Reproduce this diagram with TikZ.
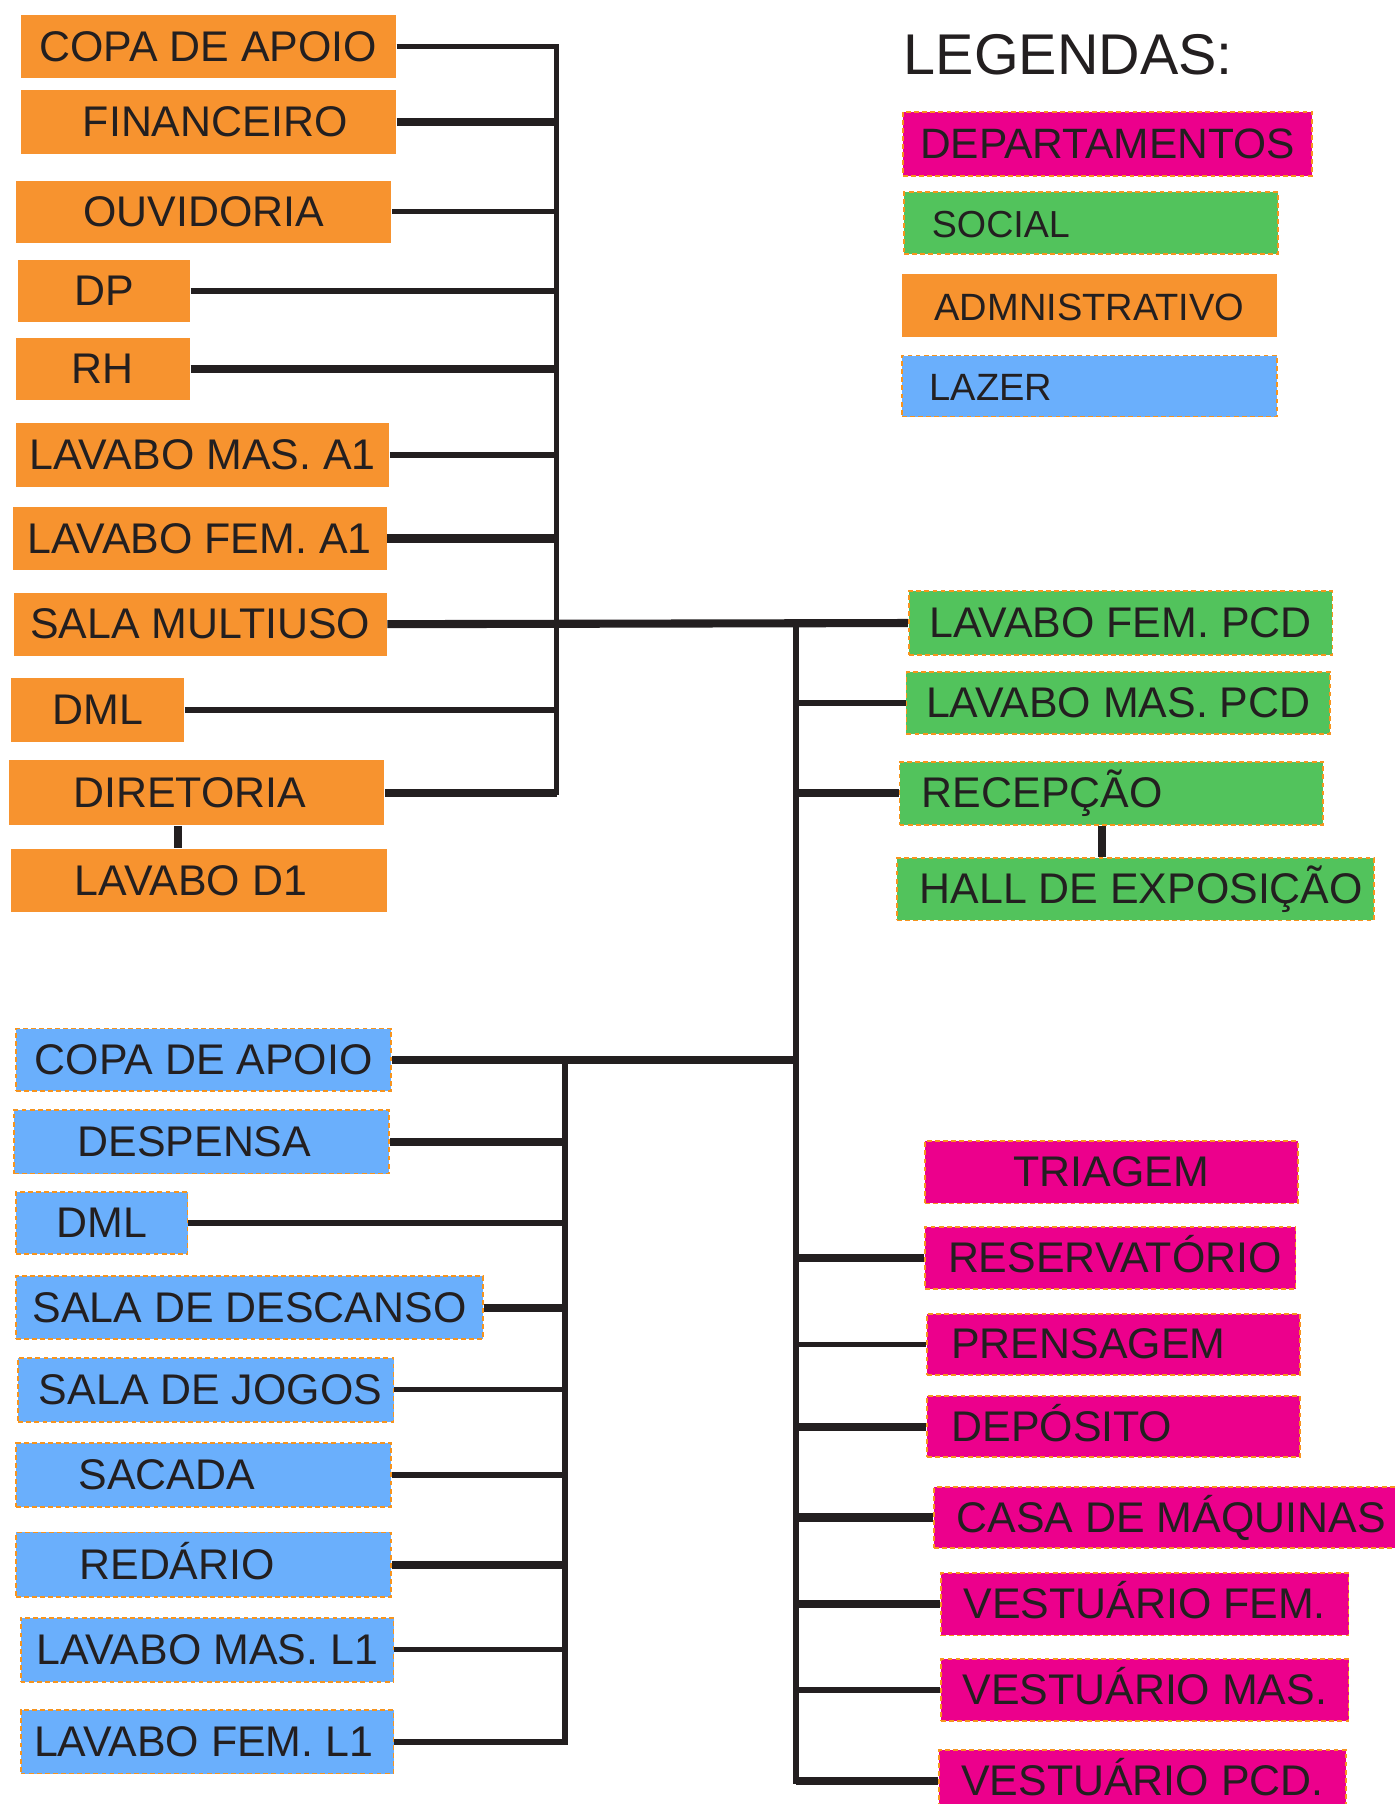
\documentclass[tikz,border=0pt]{standalone}
\usepackage{fontspec}
\setmainfont{Liberation Sans}

\definecolor{admorange}{HTML}{F7932F}
\definecolor{socgreen}{HTML}{52C35C}
\definecolor{lazblue}{HTML}{6AAFFC}
\definecolor{depmagenta}{HTML}{EC008C}
\definecolor{dashorange}{HTML}{F7941D}
\definecolor{ink}{HTML}{231F20}

\tikzset{
  room/.style={rectangle, inner sep=0pt, text=ink, font=\fontsize{10.6}{12}\selectfont,
    text height=0.74em, text depth=0.02em},
  dashbox/.style={draw=dashorange, dash pattern=on 1.2pt off 0.8pt, line width=0.45pt},
  adm/.style={room, fill=admorange},
  soc/.style={room, fill=socgreen, dashbox},
  laz/.style={room, fill=lazblue, dashbox},
  dep/.style={room, fill=depmagenta, dashbox},
  sz/.style 2 args={minimum width=#1, minimum height=#2},
  tl/.style={execute at end node={\hspace*{#1}}},
  tr/.style={execute at begin node={\hspace*{#1}}},
  link/.style={draw=ink, line width=1.3pt},
  bold/.style={draw=ink, line width=2pt},
}

\begin{document}
\begin{tikzpicture}[x=0.01cm, y=-0.01cm]
  \path[use as bounding box, fill=white] (0,0) rectangle (1212,1568);

  % legenda
  \node[anchor=base west, inner sep=0pt, text=ink, font=\fontsize{14.2}{16}\selectfont] (leg) at (785,65) {LEGENDAS:};
  \node[dep, sz={3.55cm}{0.56cm}, font=\fontsize{10.5}{12}\selectfont] (legDep) at (962.5,125) {DEPARTAMENTOS};
  \node[soc, sz={3.25cm}{0.54cm}, font=\fontsize{9.3}{11}\selectfont, tl=1.57cm] (legSoc) at (948.5,194) {SOCIAL};
  \node[adm, sz={3.26cm}{0.55cm}, font=\fontsize{9.4}{11}\selectfont] (legAdm) at (947,265.5) {ADMNISTRATIVO};
  \node[laz, sz={3.26cm}{0.53cm}, font=\fontsize{9.4}{11}\selectfont, tl=1.71cm] (legLaz) at (947,335.5) {LAZER};

  % administrativo
  \node[adm, sz={3.26cm}{0.55cm}] (copaA) at (181,40.5) {COPA DE APOIO};
  \node[adm, sz={3.26cm}{0.56cm}, tr=0.12cm] (financ) at (181,106) {FINANCEIRO};
  \node[adm, sz={3.26cm}{0.54cm}] (ouvid) at (177,184) {OUVIDORIA};
  \node[adm, sz={1.49cm}{0.54cm}] (dp) at (90.5,253) {DP};
  \node[adm, sz={1.51cm}{0.54cm}] (rh) at (89.5,321) {RH};
  \node[adm, sz={3.24cm}{0.55cm}] (lavMasA) at (176,395.5) {LAVABO MAS. A1};
  \node[adm, sz={3.25cm}{0.54cm}] (lavFemA) at (173.5,468) {LAVABO FEM. A1};
  \node[adm, sz={3.24cm}{0.55cm}] (multi) at (174,542.5) {SALA MULTIUSO};
  \node[adm, sz={1.50cm}{0.56cm}] (dmlA) at (85,617) {DML};
  \node[adm, sz={3.26cm}{0.56cm}, tl=0.12cm] (diret) at (171,689) {DIRETORIA};
  \node[adm, sz={3.26cm}{0.55cm}, tl=0.14cm] (lavD1) at (173,765.5) {LAVABO D1};

  % social
  \node[soc, sz={3.68cm}{0.55cm}] (lavFemP) at (974,541.5) {LAVABO FEM. PCD};
  \node[soc, sz={3.68cm}{0.54cm}] (lavMasP) at (972,611) {LAVABO MAS. PCD};
  \node[soc, sz={3.68cm}{0.55cm}, tl=1.2cm] (recep) at (966,689.5) {RECEPÇÃO};
  \node[soc, sz={4.14cm}{0.54cm}, tr=0.1cm] (hall) at (987,773) {HALL DE EXPOSIÇÃO};

  % lazer
  \node[laz, sz={3.26cm}{0.54cm}] (copaL) at (177,921) {COPA DE APOIO};
  \node[laz, sz={3.26cm}{0.55cm}, tl=0.12cm] (despensa) at (175,992.5) {DESPENSA};
  \node[laz, sz={1.49cm}{0.54cm}] (dmlL) at (88.5,1063) {DML};
  \node[laz, sz={4.06cm}{0.55cm}] (descanso) at (217,1136.5) {SALA DE DESCANSO};
  \node[laz, sz={3.26cm}{0.56cm}, tr=0.08cm] (jogos) at (179,1208) {SALA DE JOGOS};
  \node[laz, sz={3.26cm}{0.55cm}, tl=0.64cm] (sacada) at (177,1282) {SACADA};
  \node[laz, sz={3.26cm}{0.56cm}, tl=0.46cm] (redario) at (177,1360) {REDÁRIO};
  \node[laz, sz={3.24cm}{0.56cm}] (lavMasL) at (180,1434) {LAVABO MAS. L1};
  \node[laz, sz={3.24cm}{0.55cm}, tl=0.06cm] (lavFemL) at (180,1514) {LAVABO FEM. L1};

  % departamentos
  \node[dep, sz={3.24cm}{0.54cm}] (triagem) at (966,1019) {TRIAGEM};
  \node[dep, sz={3.22cm}{0.54cm}, tr=0.08cm] (reserv) at (965,1093.5) {RESERVATÓRIO};
  \node[dep, sz={3.24cm}{0.53cm}, tl=0.44cm] (prensa) at (968,1168.5) {PRENSAGEM};
  \node[dep, sz={3.24cm}{0.53cm}, tl=0.9cm] (deposito) at (968,1240) {DEPÓSITO};
  \node[dep, sz={4.02cm}{0.53cm}, tr=0.1cm] (casa) at (1013,1319) {CASA DE MÁQUINAS};
  \node[dep, sz={3.54cm}{0.54cm}] (vestF) at (995,1394.5) {VESTUÁRIO FEM.};
  \node[dep, sz={3.54cm}{0.54cm}] (vestM) at (995,1469) {VESTUÁRIO MAS.};
  \node[dep, sz={3.54cm}{0.54cm}] (vestP) at (993,1548) {VESTUÁRIO PCD.};

  % eixos
  \coordinate (busA) at (484,0);
  \coordinate (trunk) at (692,0);
  \coordinate (busL) at (491,0);
  \coordinate (d1x) at (155,0);
  \coordinate (hx) at (958,0);

  % ligacoes administrativo
  \draw[link] (copaA.east) -| (busA |- diret.east) -- (diret.east);
  \draw[bold] (financ.east) -- (financ.east -| busA);
  \draw[link] (ouvid.east) -- (ouvid.east -| busA);
  \draw[link] (dp.east) -- (dp.east -| busA);
  \draw[bold] (rh.east) -- (rh.east -| busA);
  \draw[link] (lavMasA.east) -- (lavMasA.east -| busA);
  \draw[bold] (lavFemA.east) -- (lavFemA.east -| busA);
  \draw[link] (dmlA.east) -- (dmlA.east -| busA);
  \draw[bold] (diret.east) -- (diret.east -| busA);
  \draw[bold] (diret.south -| d1x) -- (lavD1.north -| d1x);

  % tronco e social
  \draw[bold] (multi.east) -- (lavFemP.west);
  \draw[line width=1.6pt, draw=ink] (trunk |- multi.east) |- (vestP.west);
  \draw[link] (trunk |- lavMasP.west) -- (lavMasP.west);
  \draw[bold] (trunk |- recep.west) -- (recep.west);
  \draw[bold] (recep.south -| hx) -- (hall.north -| hx);

  % ligacoes lazer
  \draw[bold] (copaL.east) -- (copaL.east -| trunk);
  \draw[link] (copaL.east -| busL) |- (lavFemL.east);
  \draw[bold] (despensa.east) -- (despensa.east -| busL);
  \draw[link] (dmlL.east) -- (dmlL.east -| busL);
  \draw[bold] (descanso.east) -- (descanso.east -| busL);
  \draw[link] (jogos.east) -- (jogos.east -| busL);
  \draw[link] (sacada.east) -- (sacada.east -| busL);
  \draw[bold] (redario.east) -- (redario.east -| busL);
  \draw[link] (lavMasL.east) -- (lavMasL.east -| busL);

  % ligacoes departamentos
  \draw[bold] (trunk |- reserv.west) -- (reserv.west);
  \draw[link] (trunk |- prensa.west) -- (prensa.west);
  \draw[bold] (trunk |- deposito.west) -- (deposito.west);
  \draw[bold] (trunk |- casa.west) -- (casa.west);
  \draw[bold] (trunk |- vestF.west) -- (vestF.west);
  \draw[link] (trunk |- vestM.west) -- (vestM.west);
  \draw[bold] (trunk |- vestP.west) -- (vestP.west);
\end{tikzpicture}
\end{document}
